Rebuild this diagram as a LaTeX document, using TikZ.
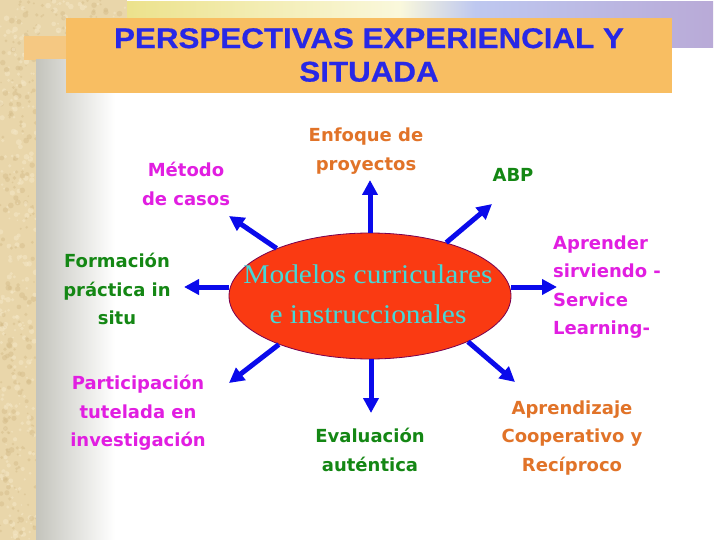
\documentclass[tikz,border=0pt]{standalone}
\usepackage{fontspec}
\usepackage{graphicx}
\setmainfont{Liberation Serif}
\newfontfamily\lblfont{DejaVu Sans}
\newfontfamily\ttlfont{Liberation Sans}[BoldFeatures={FakeBold=0.6}]
\usetikzlibrary{shapes.geometric,arrows.meta}
\definecolor{titleblue}{RGB}{40,40,230}
\definecolor{boxorange}{RGB}{248,190,98}
\definecolor{lblmag}{RGB}{225,30,225}
\definecolor{lblgreen}{RGB}{20,135,20}
\definecolor{lblorange}{RGB}{225,115,40}
\definecolor{arrblue}{RGB}{10,10,235}
\definecolor{ellred}{RGB}{250,58,18}
\definecolor{ellcyan}{RGB}{70,215,215}
\definecolor{ellborder}{RGB}{120,0,80}
\definecolor{parch}{RGB}{233,214,170}
\definecolor{parchdark}{RGB}{214,190,140}
\definecolor{parchlight}{RGB}{245,232,200}
\definecolor{barorange}{RGB}{245,200,130}
\definecolor{grayl}{RGB}{196,196,188}
\definecolor{bandyellow}{RGB}{236,226,140}
\definecolor{bandpale}{RGB}{250,248,220}
\definecolor{bandblue}{RGB}{190,200,240}
\definecolor{bandlav}{RGB}{185,170,215}
\tikzset{
  lbl/.style={font=\lblfont\bfseries\fontsize{18}{28.5}\selectfont, align=center, inner sep=0pt},
  arr/.style={draw=arrblue, line width=5pt, -{Triangle[length=15pt,width=15pt]}},
}
\begin{document}
\begin{tikzpicture}[x=1pt,y=-1pt]
\useasboundingbox (0,0) rectangle (720,540);
\fill[white] (0,0) rectangle (720,540);
% parchment
\fill[parch] (0,0) rectangle (36,540);
\fill[parch] (0,0) rectangle (127,60);
\pgfmathsetseed{7}
\foreach \i in {1,...,450}{
  \pgfmathsetmacro\xx{rnd*36}
  \pgfmathsetmacro\yy{rnd*540}
  \pgfmathsetmacro\rr{0.8+rnd*2.2}
  \pgfmathparse{rnd>0.5 ? "parchdark" : "parchlight"}
  \fill[\pgfmathresult, opacity=0.5] (\xx,\yy) circle (\rr);
}
\foreach \i in {1,...,120}{
  \pgfmathsetmacro\xx{36+rnd*91}
  \pgfmathsetmacro\yy{rnd*60}
  \pgfmathsetmacro\rr{0.8+rnd*2.2}
  \pgfmathparse{rnd>0.5 ? "parchdark" : "parchlight"}
  \fill[\pgfmathresult, opacity=0.5] (\xx,\yy) circle (\rr);
}
\fill[barorange] (24,36) rectangle (66,60);
% gray gradient
\shade[left color=grayl, right color=white] (36,60) rectangle (115,540);
% top band
\shade[left color=bandyellow, right color=bandpale] (127,2) rectangle (400,48);
\shade[left color=bandpale, right color=bandblue] (400,2) rectangle (475,48);
\shade[left color=bandblue, right color=bandlav] (475,2) rectangle (713,48);
% title box
\node[fill=boxorange, minimum width=606pt, minimum height=75pt, inner sep=0pt, anchor=north west] (tbox) at (66,18) {};
\node[font=\ttlfont\bfseries\fontsize{28.5}{33.5}\selectfont, text=titleblue, align=center, inner sep=0pt] (title) at (369,55)
  {\scalebox{1.1}[1]{PERSPECTIVAS EXPERIENCIAL Y}\\\scalebox{1.1}[1]{SITUADA}};
% central ellipse
\node[ellipse, fill=ellred, draw=ellborder, line width=0.8pt, minimum width=282pt, minimum height=126pt, inner sep=0pt] (ell) at (370,296) {};
\node[font=\fontsize{27}{40}\selectfont, text=ellcyan, align=center, inner sep=0pt] (elltxt) at (368,294)
  {\scalebox{1.09}[1]{Modelos curriculares}\\\scalebox{1.09}[1]{e instruccionales}};
% labels
\node[lbl, text=lblmag] (metodo) at (186,184) {Método\\de casos};
\node[lbl, text=lblgreen] (formacion) at (117,289) {Formación\\práctica in\\situ};
\node[lbl, text=lblmag] (particip) at (138,413) {Participación\\tutelada en\\investigación};
\node[lbl, text=lblorange] (enfoque) at (366,151) {Enfoque de\\proyectos};
\node[lbl, text=lblgreen] (abp) at (513,175) {ABP};
\node[lbl, text=lblmag, align=left, anchor=west] (aprender) at (553,287) {Aprender\\sirviendo -\\Service\\Learning-};
\node[lbl, text=lblgreen] (evaluacion) at (370,450) {Evaluación\\auténtica};
\node[lbl, text=lblorange] (aprendizaje) at (572,438) {Aprendizaje\\Cooperativo y\\Recíproco};
% arrow tips
\coordinate (t1) at (229,216);
\coordinate (t2) at (370,180);
\coordinate (t3) at (492,204);
\coordinate (t4) at (184,287);
\coordinate (t5) at (557,287);
\coordinate (t6) at (229,383);
\coordinate (t7) at (371,413);
\coordinate (t8) at (515,382);
% arrows
\draw[arr] (ell.153) -- (t1);
\draw[arr] (ell.north -| t2) -- (t2);
\draw[arr] (ell.35) -- (t3);
\draw[arr] (ell.west |- t4) -- (t4);
\draw[arr] (ell.east |- t5) -- (t5);
\draw[arr] (ell.208) -- (t6);
\draw[arr] (ell.south -| t7) -- (t7);
\draw[arr] (ell.335) -- (t8);
\end{tikzpicture}
\end{document}
